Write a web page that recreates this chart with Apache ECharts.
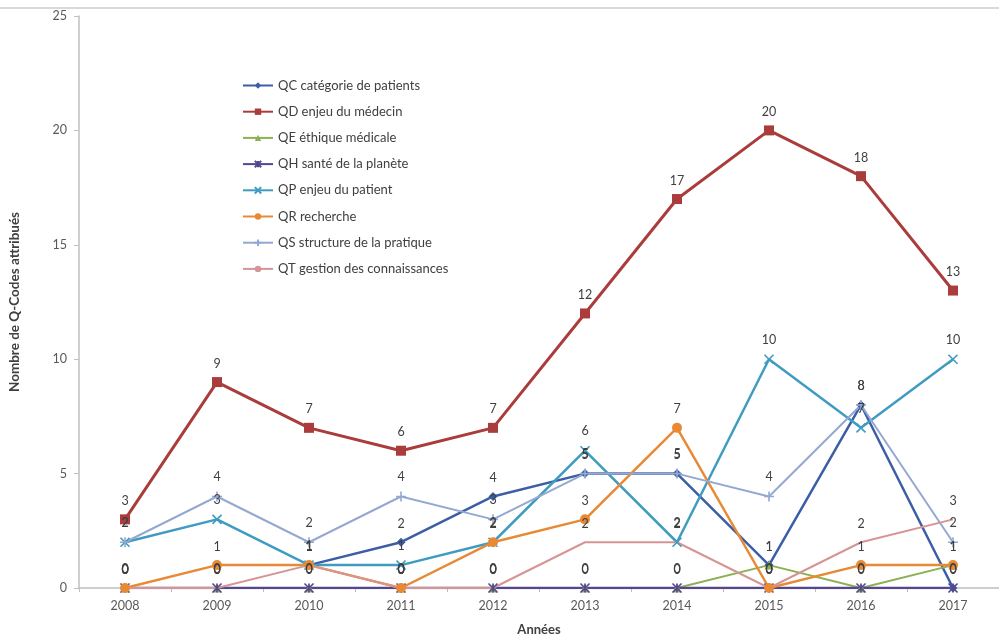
<!DOCTYPE html>
<html>
<head>
<meta charset="utf-8">
<script src="https://cdn.jsdelivr.net/npm/echarts@6/dist/echarts.min.js"></script>
<style>
  html, body { margin: 0; padding: 0; background: #fff; }
  #chart { width: 999px; height: 641px; }
</style>
</head>
<body>
<div id="chart"></div>
<script>
// Q-Codes attribués par année, 2008–2017
var years = ['2008', '2009', '2010', '2011', '2012', '2013', '2014', '2015', '2016', '2017'];

var qcCategoriePatients = [null, null, 1, 2, 4, 5, 5, 1, 8, 0];
var qdEnjeuMedecin      = [3, 9, 7, 6, 7, 12, 17, 20, 18, 13];
var qeEthiqueMedicale   = [0, 0, 0, 0, 0, 0, 0, 1, 0, 1];
var qhSantePlanete      = [0, 0, 0, 0, 0, 0, 0, 0, 0, 0];
var qpEnjeuPatient      = [2, 3, 1, 1, 2, 6, 2, 10, 7, 10];
var qrRecherche         = [0, 1, 1, 0, 2, 3, 7, 0, 1, 1];
var qsStructure         = [2, 4, 2, 4, 3, 5, 5, 4, 8, 2];
var qtGestion           = [0, 0, 1, 0, 0, 2, 2, 0, 2, 3];

var yTicks = [0, 5, 10, 15, 20, 25];

var FONT = 'Lato, "Liberation Sans", sans-serif';
var X_PATH = 'path://M0 0L10 10M10 0L0 10';
var STAR_PATH = 'path://M0 0L10 10M10 0L0 10M5 0L5 10';

function mkSeries(name, data, color, symbol, size, width) {
  return {
    name: name, type: 'line', data: data,
    symbol: symbol, symbolSize: size, showAllSymbol: true,
    lineStyle: { color: color, width: width },
    itemStyle: { color: color, borderColor: color, borderWidth: symbol.indexOf('path') === 0 ? 1.6 : 0 },
    label: {
      show: true, position: 'top', distance: Math.max(2, 12 - size / 2),
      color: '#404040', fontSize: 12.5, fontFamily: FONT
    },
    emphasis: { disabled: true },
    animation: false
  };
}

var chart = echarts.init(document.getElementById('chart'), null, { renderer: 'canvas' });
chart.setOption({
  backgroundColor: '#fff',
  animation: false,
  textStyle: { fontFamily: FONT },
  grid: { left: 77, right: -7, top: 16, bottom: 45, containLabel: false },
  graphic: [{
    type: 'line', shape: { x1: 0, y1: 8, x2: 999, y2: 8 },
    style: { stroke: '#d9d9d9', lineWidth: 2 }, silent: true
  }],
  legend: {
    orient: 'vertical', left: 237, top: 74,
    itemWidth: 30, itemHeight: 8, itemGap: 13.2,
    textStyle: { color: '#404040', fontSize: 13, fontFamily: FONT },
    data: ['QC catégorie de patients', 'QD enjeu du médecin', 'QE éthique médicale',
           'QH santé de la planète', 'QP enjeu du patient', 'QR recherche',
           'QS structure de la pratique', 'QT gestion des connaissances']
  },
  xAxis: {
    type: 'category', data: years, boundaryGap: true,
    name: 'Années', nameLocation: 'middle', nameGap: 35,
    nameTextStyle: { fontWeight: 'bold', color: '#404040', fontSize: 13, fontFamily: FONT },
    axisLine: { lineStyle: { color: '#bfbfbf', width: 1.5 } },
    axisTick: { show: true, length: 4, lineStyle: { color: '#bfbfbf' } },
    axisLabel: { color: '#595959', fontSize: 12.5, margin: 11, fontFamily: FONT }
  },
  yAxis: {
    type: 'value', min: 0, max: 25, interval: 5,
    name: 'Nombre de Q-Codes attribués', nameLocation: 'middle', nameGap: 57,
    nameTextStyle: { fontWeight: 'bold', color: '#404040', fontSize: 13.5, fontFamily: FONT },
    axisLine: { show: true, lineStyle: { color: '#bfbfbf', width: 1.5 } },
    axisTick: { show: true, length: 5, lineStyle: { color: '#bfbfbf' } },
    axisLabel: {
      color: '#595959', fontSize: 12.5, margin: 12, fontFamily: FONT,
      formatter: function (v) { return yTicks.indexOf(v) >= 0 ? String(v) : ''; }
    },
    splitLine: { show: false }
  },
  series: [
    mkSeries('QC catégorie de patients', qcCategoriePatients, '#3c5ea6', 'diamond', 9, 2.5),
    mkSeries('QD enjeu du médecin', qdEnjeuMedecin, '#aa3d3b', 'rect', 10, 3),
    mkSeries('QE éthique médicale', qeEthiqueMedicale, '#8cb054', 'triangle', 9, 2),
    mkSeries('QH santé de la planète', qhSantePlanete, '#55478f', STAR_PATH, 9, 2.5),
    mkSeries('QP enjeu du patient', qpEnjeuPatient, '#3f9cc0', X_PATH, 9, 2.5),
    mkSeries('QR recherche', qrRecherche, '#e88a35', 'circle', 10, 2.5),
    mkSeries('QS structure de la pratique', qsStructure, '#94a8d2', 'path://M5 0L5 10M0 5L10 5', 10, 2),
    mkSeries('QT gestion des connaissances', qtGestion, '#d59595', 'circle', 0, 2)
  ]
});
</script>
</body>
</html>
